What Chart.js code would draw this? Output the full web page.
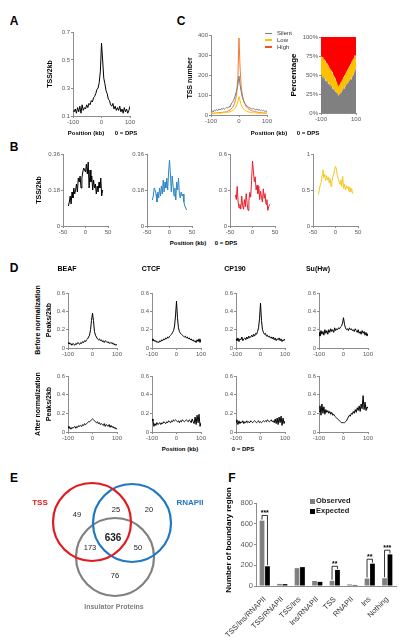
<!DOCTYPE html>
<html>
<head>
<meta charset="utf-8">
<script src="https://cdn.jsdelivr.net/npm/chart.js@4.4.1/dist/chart.umd.min.js"></script>
<style>
  html, body { margin: 0; padding: 0; background: #fff; }
  #fig { position: relative; width: 407px; height: 642px; overflow: hidden; font-family: "Liberation Sans", Arial, sans-serif; }
  #fig canvas { position: absolute; }
  .t { position: absolute; white-space: nowrap; line-height: 1; transform: translate(-50%, -50%); }
  .r { transform: translate(-50%, -50%) rotate(-90deg); }
  .l { transform: translate(0, -50%); }
</style>
</head>
<body>
<div id="fig"></div>
<script>
// positions (kb from DPS)
const pos100 = [-100,-96,-92,-88,-84,-80,-76,-72,-68,-64,-60,-56,-52,-48,-44,-40,-36,-32,-28,-24,-20,-16,-12,-8,-4,0,4,8,12,16,20,24,28,32,36,40,44,48,52,56,60,64,68,72,76,80,84,88,92,96,100];
const pos50 = [-38,-36,-34,-32,-30,-28,-26,-24,-22,-20,-18,-16,-14,-12,-10,-8,-6,-4,-2,0,2,4,6,8,10,12,14,16,18,20,22,24,26,28,30,32,34,36,38];

// A
const tssA = [.14,.13,.15,.12,.16,.13,.17,.12,.18,.14,.16,.15,.18,.16,.19,.18,.21,.2,.23,.24,.26,.29,.3,.34,.42,.62,.5,.37,.33,.28,.26,.22,.21,.18,.17,.19,.15,.17,.14,.16,.14,.17,.13,.15,.12,.16,.13,.15,.12,.14,.17];

// C (TSS number by expression)
const silent = [18,22,15,25,20,28,22,30,25,32,27,35,30,33,38,35,42,40,55,62,72,85,105,125,150,195,150,115,88,72,60,52,45,40,38,35,32,30,33,28,26,30,24,27,22,25,20,23,18,21,17];
const low = [8,10,7,9,8,11,9,10,8,11,10,12,11,13,12,14,15,16,18,22,25,30,38,50,68,92,70,50,38,30,25,21,18,16,15,13,12,11,12,10,11,9,10,9,8,10,8,9,7,8,7];
const high = [8,10,7,12,9,11,10,13,11,14,12,15,14,17,16,19,22,25,30,36,45,58,78,110,190,385,230,140,100,75,58,46,38,32,28,25,22,20,19,17,16,15,14,13,12,12,11,10,11,9,10];
// C (percentage)
const silentPct = [48,52,45,50,44,47,42,46,40,44,38,41,36,39,34,37,32,35,30,32,28,30,26,27,24,22,25,24,27,26,30,29,33,32,35,34,38,37,40,39,43,42,45,44,48,47,50,52,54,56,58];
const lowPct = [27,22,28,24,27,23,26,22,25,21,24,22,23,20,22,19,21,18,19,16,17,15,15,13,12,12,13,12,13,14,13,15,14,16,15,17,16,18,17,19,18,20,19,21,20,22,21,20,22,19,18];

// B
const tssBlack = [.10,.12,.15,.11,.17,.14,.19,.16,.18,.21,.17,.24,.22,.25,.19,.24,.27,.29,.28,.27,.31,.26,.32,.19,.28,.22,.25,.18,.23,.19,.21,.16,.2,.17,.22,.19,.24,.15,.18];
const tssBlue = [.13,.15,.19,.18,.16,.12,.17,.14,.19,.15,.2,.16,.23,.17,.22,.19,.24,.18,.27,.33,.26,.17,.25,.2,.15,.19,.13,.22,.18,.24,.16,.14,.17,.15,.16,.12,.1,.09,.08];
const tssRed = [.26,.22,.33,.2,.15,.18,.14,.25,.17,.14,.22,.16,.27,.19,.13,.21,.28,.24,.38,.54,.46,.37,.41,.3,.34,.27,.33,.22,.29,.24,.2,.31,.23,.27,.18,.22,.13,.16,.18];
const tssGold = [.44,.5,.57,.6,.7,.78,.67,.72,.63,.7,.64,.68,.6,.66,.55,.62,.68,.72,.78,.83,.79,.7,.66,.62,.58,.64,.55,.69,.52,.58,.5,.56,.52,.55,.48,.54,.47,.52,.45];

// D
const proteins = ["BEAF", "CTCF", "CP190", "Su(Hw)"];
const beafBefore = [.05,.06,.04,.05,.03,.05,.04,.03,.05,.04,.06,.05,.04,.06,.05,.07,.06,.08,.07,.09,.1,.12,.14,.2,.3,.38,.3,.18,.14,.12,.1,.09,.1,.08,.09,.07,.08,.06,.08,.07,.06,.07,.05,.06,.05,.06,.04,.05,.03,.04,.03];
const ctcfBefore = [.1,.08,.09,.07,.08,.06,.07,.06,.08,.07,.09,.08,.1,.09,.11,.1,.12,.11,.13,.14,.15,.17,.19,.24,.35,.51,.33,.22,.18,.16,.15,.14,.13,.12,.13,.11,.12,.1,.11,.09,.1,.08,.09,.07,.08,.06,.09,.07,.1,.06,.1];
const cp190Before = [.1,.08,.11,.07,.1,.09,.12,.08,.1,.11,.09,.12,.1,.13,.11,.12,.14,.12,.15,.13,.16,.15,.18,.22,.32,.49,.3,.2,.17,.15,.16,.13,.14,.12,.13,.11,.12,.1,.12,.09,.11,.08,.1,.09,.11,.08,.1,.07,.09,.08,.1];
const suhwBefore = [.17,.13,.19,.15,.18,.14,.2,.16,.19,.15,.2,.17,.21,.18,.2,.17,.22,.19,.21,.2,.22,.21,.23,.24,.27,.33,.26,.22,.2,.21,.19,.22,.2,.21,.19,.2,.18,.21,.19,.17,.2,.16,.18,.15,.19,.16,.18,.14,.17,.13,.16];
const beafAfter = [.06,.04,.05,.03,.05,.04,.05,.06,.04,.06,.05,.07,.06,.07,.06,.08,.07,.09,.08,.09,.1,.11,.11,.12,.13,.14,.13,.12,.11,.1,.11,.09,.1,.08,.09,.08,.07,.09,.06,.08,.07,.06,.08,.05,.07,.05,.06,.04,.05,.03,.04];
const ctcfAfter = [.14,.12,.06,.09,.07,.1,.08,.09,.1,.08,.1,.09,.11,.1,.09,.11,.1,.12,.11,.1,.12,.11,.13,.12,.13,.12,.11,.12,.1,.12,.11,.13,.12,.11,.12,.13,.12,.11,.13,.12,.1,.14,.11,.09,.16,.08,.18,.1,.19,.06,.1];
const cp190After = [.13,.1,.08,.12,.09,.11,.1,.12,.09,.11,.1,.12,.1,.11,.1,.12,.11,.1,.11,.12,.11,.1,.11,.12,.1,.11,.1,.11,.12,.11,.12,.11,.13,.12,.11,.12,.13,.11,.12,.1,.14,.09,.15,.08,.16,.1,.17,.07,.15,.09,.12];
const suhwAfter = [.22,.28,.18,.3,.2,.27,.19,.24,.21,.23,.2,.22,.19,.21,.18,.19,.17,.16,.15,.14,.13,.12,.11,.1,.1,.1,.1,.11,.12,.14,.16,.18,.17,.2,.19,.22,.2,.24,.21,.26,.23,.28,.22,.3,.25,.39,.24,.32,.23,.27,.25];

// E
const vennNames = ["TSS", "RNAPII", "Insulator Proteins"];
const vennCounts = [49, 25, 20, 173, 636, 50, 76];

// F
const fCategories = ["TSS/Ins/RNAPII", "TSS/RNAPII", "TSS/Ins", "Ins/RNAPII", "TSS", "RNAPII", "Ins", "Nothing"];
const observed = [630, 20, 172, 48, 50, 15, 72, 75];
const expected = [190, 18, 182, 40, 155, 10, 215, 305];
const sigLevel = [680, null, null, null, 190, null, 258, 345];
const sigMark = ["***", "", "", "", "**", "", "**", "***"];

// tick values
const ticks100 = [-100, 0, 100];
const ticksEnds = [-100, 100];
const ticks50 = [-50, 0, 50];

const fig = document.getElementById("fig");
const FONT = '"Liberation Sans", Arial, sans-serif';
Chart.defaults.font.family = FONT;
const axisCol = "#8c8c8c";
const tickCol = "#595959";

const text = (s, x, y, size, o = {}) => {
  const d = document.createElement("div");
  d.className = "t" + (o.rot ? " r" : "") + (o.left ? " l" : "");
  d.textContent = s;
  d.style.left = x + "px";
  d.style.top = y + "px";
  d.style.fontSize = size + "px";
  if (o.bold) d.style.fontWeight = "bold";
  d.style.color = o.color || "#000";
  fig.appendChild(d);
  return d;
};

const swatch = (x, y, w, h, color) => {
  const d = document.createElement("div");
  d.style.cssText = `position:absolute;left:${x}px;top:${y}px;width:${w}px;height:${h}px;background:${color}`;
  fig.appendChild(d);
};

const makeCanvas = (left, top, width, height) => {
  const c = document.createElement("canvas");
  c.width = width;
  c.height = height;
  c.style.left = left + "px";
  c.style.top = top + "px";
  c.style.width = width + "px";
  c.style.height = height + "px";
  fig.appendChild(c);
  return c;
};

const axis = (ticks, size, fmt) => ({
  grid: { drawOnChartArea: false, drawTicks: true, tickLength: 2, color: axisCol },
  border: { color: axisCol, width: 1 },
  ticks: { font: { size }, color: tickCol, padding: 1, autoSkip: false, maxRotation: 0, callback: fmt || ((v) => String(v)) },
  afterBuildTicks: (s) => { s.ticks = ticks.map((v) => ({ value: v })); },
});

// plot = [left, top, width, height] of the plotting area
const linePanel = ({ plot, xs, series, xr, xt, yr, yt, yFmt, stacked = false, size = 6 }) => {
  const [L, T, W, H] = plot;
  const yw = 26, xh = 12, pt = 5, pr = 9;
  const canvas = makeCanvas(L - yw, T - pt, yw + W + pr, pt + H + xh);
  return new Chart(canvas, {
    type: "line",
    data: {
      datasets: series.map((s) => ({
        data: xs.map((x, i) => ({ x, y: s.values[i] })),
        borderColor: s.color,
        borderWidth: s.width ?? 1,
        backgroundColor: s.fillColor || s.color,
        fill: s.fill ?? false,
        pointRadius: 0,
        tension: 0,
      })),
    },
    options: {
      responsive: false,
      animation: false,
      devicePixelRatio: 1,
      layout: { autoPadding: false, padding: { top: pt, right: pr, left: 0, bottom: 0 } },
      plugins: { legend: { display: false }, tooltip: { enabled: false } },
      scales: {
        x: { type: "linear", min: xr[0], max: xr[1], ...axis(xt, size), afterFit: (s) => { s.height = xh; } },
        y: { min: yr[0], max: yr[1], stacked, ...axis(yt, size, yFmt), afterFit: (s) => { s.width = yw; } },
      },
    },
  });
};

// ---------- A ----------
linePanel({ plot: [73, 32, 57, 84], xs: pos100, series: [{ values: tssA, color: "#000" }],
  xr: [-100, 100], xt: ticks100, yr: [0.1, 0.7], yt: [0.1, 0.3, 0.5, 0.7] });

// ---------- C ----------
linePanel({ plot: [211, 35, 56, 80], xs: pos100,
  series: [
    { values: silent, color: "#7f7f7f" },
    { values: low, color: "#ffc000" },
    { values: high, color: "#f47a30" },
  ],
  xr: [-100, 100], xt: ticks100, yr: [0, 400], yt: [0, 100, 200, 300, 400] });

const highPct = silentPct.map((v, i) => 100 - v - lowPct[i]);
linePanel({ plot: [321, 37, 35, 76], xs: pos100, stacked: true,
  series: [
    { values: silentPct, color: "#808080", fill: "origin", width: 0 },
    { values: lowPct, color: "#ffc000", fill: "-1", width: 0 },
    { values: highPct, color: "#ff0000", fill: "-1", width: 0 },
  ],
  xr: [-100, 100], xt: ticksEnds, yr: [0, 100], yt: [0, 25, 50, 75, 100], yFmt: (v) => v + "%" });

// ---------- B ----------
const bSets = [
  { values: tssBlack, color: "#000", yr: [0, 0.36], yt: [0, 0.18, 0.36] },
  { values: tssBlue, color: "#2c85c6", yr: [0, 0.36], yt: [0, 0.18, 0.36] },
  { values: tssRed, color: "#e8202a", yr: [0, 0.6], yt: [0, 0.3, 0.6] },
  { values: tssGold, color: "#f7c51e", yr: [0, 1], yt: [0, 0.5, 1] },
];
const bLefts = [63, 147, 230, 313];
bSets.forEach((b, i) => {
  linePanel({ plot: [bLefts[i], 154, 45, 72], xs: pos50, series: [{ values: b.values, color: b.color }],
    xr: [-50, 50], xt: ticks50, yr: b.yr, yt: b.yt });
});

// ---------- D ----------
const dLefts = [68, 152, 236, 319];
const dBefore = [beafBefore, ctcfBefore, cp190Before, suhwBefore];
const dAfter = [beafAfter, ctcfAfter, cp190After, suhwAfter];
const dTicks = [0, 0.2, 0.4, 0.6];
dLefts.forEach((L, i) => {
  linePanel({ plot: [L, 293, 49, 55], xs: pos100, series: [{ values: dBefore[i], color: "#000" }],
    xr: [-100, 100], xt: ticks100, yr: [0, 0.6], yt: dTicks });
  linePanel({ plot: [L, 376, 49, 56], xs: pos100, series: [{ values: dAfter[i], color: "#000" }],
    xr: [-100, 100], xt: ticks100, yr: [0, 0.6], yt: dTicks });
});

// ---------- E (Venn) ----------
const vennColors = ["#e3191f", "#1f78c1", "#808080"];
const vennCentres = [{ x: 52, y: 52 }, { x: 92, y: 53 }, { x: 75, y: 87 }];
new Chart(makeCanvas(40, 470, 160, 140), {
  type: "scatter",
  data: {
    datasets: vennCentres.map((c, i) => ({
      data: [c], pointRadius: 39, pointHoverRadius: 39, borderWidth: 2.2,
      borderColor: vennColors[i], backgroundColor: "rgba(0,0,0,0)", clip: false,
    })),
  },
  options: {
    responsive: false, animation: false, devicePixelRatio: 1,
    layout: { autoPadding: false, padding: 0 },
    plugins: { legend: { display: false }, tooltip: { enabled: false } },
    scales: { x: { display: false, min: 0, max: 160 }, y: { display: false, min: 0, max: 140, reverse: true } },
  },
});

// ---------- F ----------
const brackets = {
  id: "brackets",
  afterDatasetsDraw(chart) {
    const { ctx, scales: { y } } = chart;
    const a = chart.getDatasetMeta(0).data, b = chart.getDatasetMeta(1).data;
    ctx.save();
    ctx.strokeStyle = "#000";
    ctx.lineWidth = 0.8;
    ctx.fillStyle = "#000";
    ctx.font = "bold 7px " + FONT;
    ctx.textAlign = "center";
    sigLevel.forEach((lv, i) => {
      if (lv === null) return;
      const top = y.getPixelForValue(lv);
      ctx.beginPath();
      ctx.moveTo(a[i].x, a[i].y - 1);
      ctx.lineTo(a[i].x, top);
      ctx.lineTo(b[i].x, top);
      ctx.lineTo(b[i].x, b[i].y - 1);
      ctx.stroke();
      ctx.fillText(sigMark[i], (a[i].x + b[i].x) / 2, top - 0.5);
    });
    ctx.restore();
  },
};
new Chart(makeCanvas(212, 495, 195, 143), {
  type: "bar",
  data: {
    labels: fCategories,
    datasets: [
      { label: "Observed", data: observed, backgroundColor: "#808080" },
      { label: "Expected", data: expected, backgroundColor: "#000" },
    ],
  },
  options: {
    responsive: false, animation: false, devicePixelRatio: 1,
    layout: { padding: { top: 8, right: 11, left: 0, bottom: 0 } },
    plugins: { legend: { display: false }, tooltip: { enabled: false } },
    datasets: { bar: { categoryPercentage: 0.62, barPercentage: 0.88 } },
    scales: {
      x: {
        grid: { display: false }, border: { color: axisCol },
        ticks: { font: { size: 7.5 }, color: "#333", minRotation: 45, maxRotation: 45, autoSkip: false, padding: 1 },
        afterFit: (s) => { s.height = 52; },
      },
      y: { min: 0, max: 800, ...axis([0, 200, 400, 600, 800], 7.5), afterFit: (s) => { s.width = 44; } },
    },
  },
  plugins: [brackets],
});

// ---------- text ----------
const panelFont = 12;
[["A", 14, 21], ["C", 181, 21], ["B", 14, 147], ["D", 14, 268], ["E", 14, 478], ["F", 232, 478]]
  .forEach(([s, x, y]) => text(s, x, y, panelFont, { bold: true }));

text("TSS/2kb", 49, 74, 7, { bold: true, rot: true });
text("Position  (kb)", 86, 133, 6, { bold: true });
text("0 = DPS", 126, 133, 6, { bold: true });

text("TSS number", 189, 78, 7, { bold: true, rot: true });
[["Silent", "#7f7f7f", 33], ["Low", "#ffc000", 39.5], ["High", "#f4502a", 46.5]].forEach(([s, c, y]) => {
  swatch(265, y - 0.5, 7, 1.5, c);
  text(s, 277, y, 6, { left: true, color: "#333" });
});
text("Percentage", 294, 75, 8, { bold: true, rot: true });
text("Position  (kb)", 269, 133, 6, { bold: true });
text("0 = DPS", 308, 133, 6, { bold: true });

text("TSS/2kb", 38, 190, 7, { bold: true, rot: true });
text("Position  (kb)", 188, 243, 6, { bold: true });
text("0 = DPS", 226, 243, 6, { bold: true });

proteins.forEach((p, i) => text(p, dLefts[i] - 1, 268, 7, { bold: true }));
text("Before normalization", 37, 320, 7, { bold: true, rot: true });
text("Peaks/2kb", 48, 320, 7, { bold: true, rot: true });
text("After normalization", 37, 404, 7, { bold: true, rot: true });
text("Peaks/2kb", 48, 404, 7, { bold: true, rot: true });
text("Position  (kb)", 180, 449, 6, { bold: true });
text("0 = DPS", 243, 449, 6, { bold: true });

text(vennNames[0], 40, 503, 8, { bold: true, color: vennColors[0] });
text(vennNames[1], 190, 503, 8, { bold: true, color: vennColors[1] });
text(vennNames[2], 114, 606, 7, { bold: true, color: vennColors[2] });
const vennSpots = [[77, 515], [116, 510], [149, 510], [90, 548], [113, 538], [138, 548], [115, 576]];
vennCounts.forEach((n, i) => {
  const big = n === 636;
  text(String(n), vennSpots[i][0], vennSpots[i][1], big ? 10 : 7.5, { bold: big, color: "#222" });
});

text("Number of boundary region", 229, 540, 8, { bold: true, rot: true });
[["Observed", "#808080", 501], ["Expected", "#000", 511]].forEach(([s, c, y]) => {
  swatch(310, y - 2.5, 5, 5, c);
  text(s, 316, y, 7.5, { bold: true, left: true, color: "#222" });
});
</script>
</body>
</html>
